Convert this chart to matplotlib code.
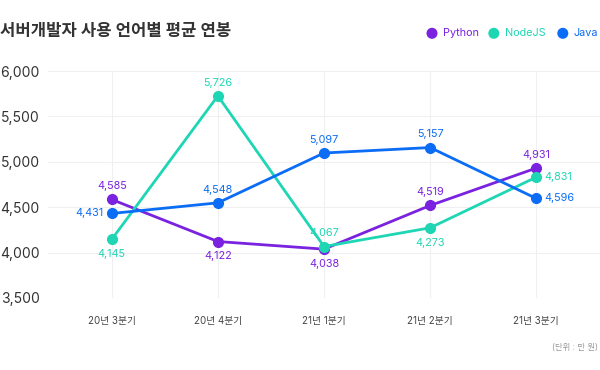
import matplotlib
matplotlib.use("Agg")
import matplotlib.pyplot as plt

plt.rcParams['font.family'] = ['Inter', 'Noto Sans CJK KR', 'DejaVu Sans']

quarters = ["20년 3분기", "20년 4분기", "21년 1분기", "21년 2분기", "21년 3분기"]
python_vals = [4585, 4122, 4038, 4519, 4931]
node_vals = [4145, 5726, 4067, 4273, 4831]
java_vals = [4431, 4548, 5097, 5157, 4596]
y_ticks = [3500, 4000, 4500, 5000, 5500, 6000]

# label placement per point: 'a' above, 'b' below, 'l' left, 'r' right
series = [
    ("Python", python_vals, "#7a22e0", ["a", "b", "b", "a", "a"]),
    ("NodeJS", node_vals, "#1fd6b4", ["b", "a", "a", "b", "r"]),
    ("Java", java_vals, "#0b6cf6", ["l", "a", "a", "a", "r"]),
]

fig = plt.figure(figsize=(6, 3.7), dpi=100)
ax = fig.add_axes([0.08, 0.1946, 0.92, 0.6135])
x = list(range(len(quarters)))

offsets = {"a": (0, 6, "center", "bottom"), "b": (0, -7, "center", "top"),
           "l": (-6, 0, "right", "center"), "r": (6, 0, "left", "center")}

for name, vals, color, pos in series:
    ax.plot(x, vals, color=color, lw=2, marker="o", ms=7, zorder=3)
    for xi, v, p in zip(x, vals, pos):
        dx, dy, ha, va = offsets[p]
        ax.annotate(f"{v:,}", (xi, v), xytext=(dx, dy), textcoords="offset points",
                    ha=ha, va=va, fontsize=7.8, color=color, zorder=4)

ax.set_xlim(-0.6, 4.6)
ax.set_ylim(3500, 6000)
ax.set_yticks(y_ticks)
ax.set_yticklabels([f"{t:,}" for t in y_ticks], fontsize=10, color="#333333")
ax.set_xticks(x)
ax.set_xticklabels(quarters, fontsize=7, color="#444444")
ax.tick_params(length=0)
ax.tick_params(axis="x", pad=13)
ax.tick_params(axis="y", pad=6)
ax.grid(True, color="#f0f0f0", lw=0.8, zorder=0)
for s in ax.spines.values():
    s.set_visible(False)

fig.text(0.0, 0.915, "서버개발자 사용 언어별 평균 연봉", fontsize=12, fontweight="bold",
         color="#333333", va="center", ha="left")

# legend
lx = [0.72, 0.823, 0.938]
for (name, vals, color, pos), px in zip(series, lx):
    fig.patches.append(matplotlib.patches.Ellipse((px, 0.91), 0.016, 0.026,
                                                  transform=fig.transFigure, color=color))
    fig.text(px + 0.018, 0.91, name, fontsize=7.8, color=color, va="center", ha="left")

fig.text(0.997, 0.062, "(단위 : 만 원)", fontsize=6, color="#999999", ha="right", va="center")

fig.savefig("out.png", dpi=100, facecolor="white")
